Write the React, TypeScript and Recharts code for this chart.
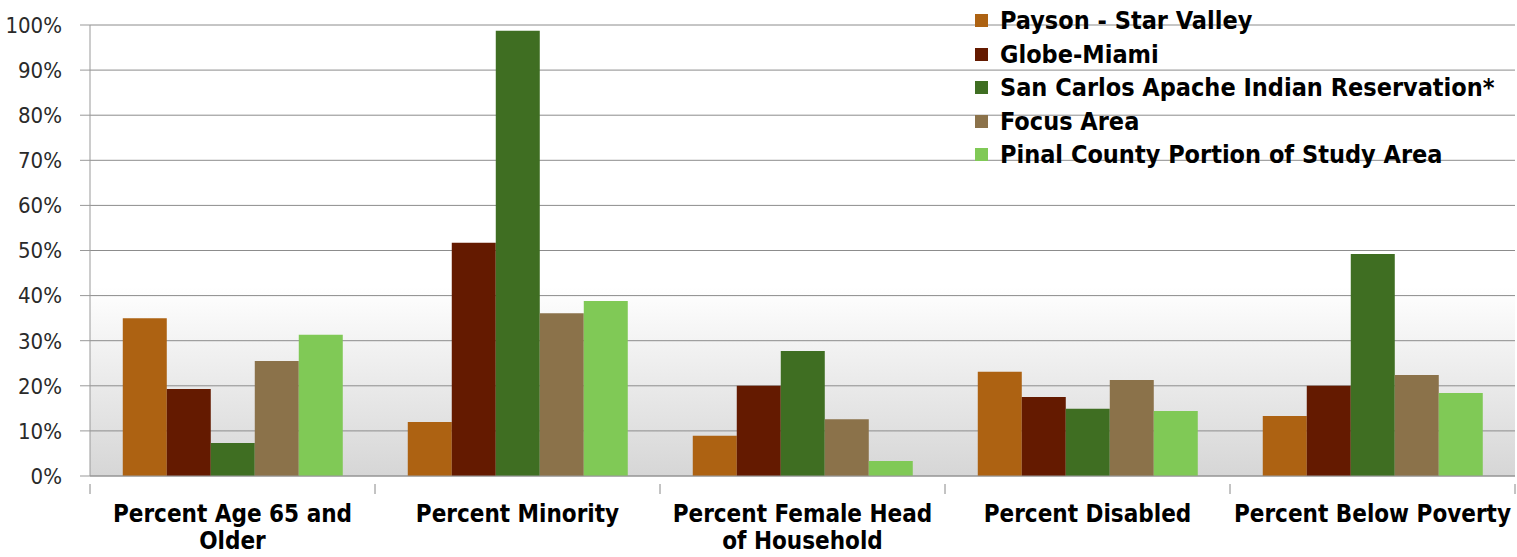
// Demographic comparison of study-area communities — grouped bar chart.
import { BarChart, Bar, XAxis, YAxis, CartesianGrid } from "recharts";

const categories = [
  "Percent Age 65 and Older",
  "Percent Minority",
  "Percent Female Head of Household",
  "Percent Disabled",
  "Percent Below Poverty",
];
// how each category label breaks onto lines under the axis
const categoryLines = [
  ["Percent Age 65 and", "Older"],
  ["Percent Minority"],
  ["Percent Female Head", "of Household"],
  ["Percent Disabled"],
  ["Percent Below Poverty"],
];

const payson = [35, 12, 8.9, 23.1, 13.3];
const globeMiami = [19.3, 51.7, 20, 17.5, 20];
const sanCarlos = [7.3, 98.7, 27.7, 14.9, 49.2];
const focusArea = [25.5, 36.1, 12.6, 21.3, 22.4];
const pinal = [31.3, 38.8, 3.3, 14.4, 18.4];

const yTicks = [0, 10, 20, 30, 40, 50, 60, 70, 80, 90, 100];

const series = [
  { key: "payson", name: "Payson - Star Valley", color: "#AD6212", values: payson },
  { key: "globe", name: "Globe-Miami", color: "#641A00", values: globeMiami },
  { key: "sanCarlos", name: "San Carlos Apache Indian Reservation*", color: "#3F6E22", values: sanCarlos },
  { key: "focus", name: "Focus Area", color: "#8B724A", values: focusArea },
  { key: "pinal", name: "Pinal County Portion of Study Area", color: "#80C956", values: pinal },
];

const data = categories.map((c, i) => {
  const row: Record<string, string | number> = { category: c };
  series.forEach((s) => (row[s.key] = s.values[i]));
  return row;
});

const W = 1517;
const H = 557;
const X_H = 81;
const margin = { top: 25, right: 2, bottom: 0, left: 0 };
const Y_W = 90;
const BAND = (W - margin.left - margin.right - Y_W) / categories.length;
const FONT = "'Liberation Sans Narrow', 'Arial Narrow', 'DejaVu Sans Condensed', sans-serif";

const CategoryTick = (props: any) => {
  const { x, y, index } = props;
  const lines = categoryLines[index] ?? [];
  return (
    <g>
      {index === 0 && <line x1={x - BAND / 2} x2={x - BAND / 2} y1={y} y2={y + 10} stroke="#888" />}
      <line x1={x + BAND / 2} x2={x + BAND / 2} y1={y} y2={y + 10} stroke="#888" />
      <text
        x={x}
        y={y + 38}
        textAnchor="middle"
        style={{ fontFamily: FONT, fontWeight: 700, fontSize: 24, fill: "#000" }}
      >
        {lines.map((l, i) => (
          <tspan key={i} x={x} dy={i === 0 ? 0 : 27}>
            {l}
          </tspan>
        ))}
      </text>
    </g>
  );
};

const LegendBox = () => (
  <div
    style={{
      position: "absolute",
      left: 975,
      top: 4,
      fontFamily: FONT,
      fontWeight: 700,
      fontSize: 25,
      color: "#000",
      lineHeight: 1,
    }}
  >
    {series.map((s) => (
      <div key={s.key} style={{ display: "flex", alignItems: "center", height: 33.5, whiteSpace: "nowrap" }}>
        <span style={{ width: 13, height: 13, background: s.color, marginRight: 12, display: "inline-block" }} />
        {s.name}
      </div>
    ))}
  </div>
);

export default function App() {
  return (
    <div style={{ position: "absolute", left: 0, top: 0, width: W, height: H, background: "#fff", overflow: "hidden" }}>
      <BarChart width={W} height={H} data={data} margin={margin} barGap={0} barCategoryGap="11.5%">
        <defs>
          <linearGradient id="plotBg" x1="0" y1="0" x2="0" y2="1">
            <stop offset="0.58" stopColor="#ffffff" />
            <stop offset="1" stopColor="#d6d6d6" />
          </linearGradient>
        </defs>
        <CartesianGrid vertical={false} stroke="#8c8c8c" fill="url(#plotBg)" />
        <XAxis
          dataKey="category"
          interval={0}
          tickLine={false}
          axisLine={{ stroke: "#999" }}
          tick={<CategoryTick />}
          height={X_H}
        />
        <YAxis
          width={Y_W}
          domain={[0, 100]}
          ticks={yTicks}
          interval={0}
          tickFormatter={(v: number) => `${v}%`}
          tickSize={10}
          tickMargin={18}
          axisLine={{ stroke: "#999" }}
          tickLine={{ stroke: "#999" }}
          tick={{ fontFamily: FONT, fontSize: 22, fill: "#2a2a2a" }}
        />
        {series.map((s) => (
          <Bar key={s.key} dataKey={s.key} name={s.name} fill={s.color} isAnimationActive={false} />
        ))}
      </BarChart>
      <LegendBox />
    </div>
  );
}
